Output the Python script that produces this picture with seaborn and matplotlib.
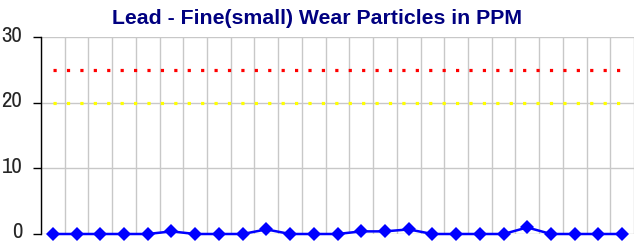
import matplotlib
matplotlib.use("Agg")
import matplotlib.pyplot as plt
import matplotlib.transforms as mtransforms
import seaborn as sns
import pandas as pd
import numpy as np

# ---- data ----
samples = list(range(1, 26))
lead_ppm = [0, 0, 0, 0, 0, 0.4, 0, 0, 0, 0.7, 0, 0, 0, 0.4, 0.4, 0.7, 0, 0, 0, 0, 1.0, 0, 0, 0, 0]
caution_limit = [20] * 25
critical_limit = [25] * 25
y_ticks = [0, 10, 20, 30]
title = "Lead - Fine(small) Wear Particles in PPM"

df = pd.DataFrame({
    "pos": np.arange(len(samples)),
    "lead": lead_ppm,
    "caution": caution_limit,
    "critical": critical_limit,
})

sns.set_theme(style="white")
plt.rcParams["font.family"] = ["Archivo Narrow", "DejaVu Sans"]

fig = plt.figure(figsize=(6.35, 2.41), dpi=100)
ax = fig.add_axes([41 / 635, 7 / 241, 593 / 635, 197 / 241])

sns.lineplot(data=df, x="pos", y="critical", ax=ax, color="#ff0000",
             linewidth=2.3, linestyle=(0, (1, 3.2)), dash_capstyle="butt")
sns.lineplot(data=df, x="pos", y="caution", ax=ax, color="#ffff00",
             linewidth=2.3, linestyle=(0, (1, 3.2)), dash_capstyle="butt")
sns.lineplot(data=df, x="pos", y="lead", ax=ax, color="#0000ff",
             linewidth=1.8, marker="D", markersize=7.5, markeredgewidth=0,
             clip_on=False, zorder=5)

ax.set_xlim(-0.5, len(samples) - 0.5)
ax.set_ylim(0, 30)
ax.set_yticks(y_ticks)
ax.set_yticklabels([str(t) for t in y_ticks], fontsize=16.5,
                   family=["Archivo Narrow", "DejaVu Sans"])
ax.set_xticks(np.arange(len(samples) + 1) - 0.5)
ax.set_xticklabels([])
ax.tick_params(axis="x", length=0)
ax.tick_params(axis="y", length=6, width=1, color="black", pad=6, left=True)
ax.set_xlabel("")
ax.set_ylabel("")

offset = mtransforms.ScaledTranslation(-2 / 100, 3.5 / 100, fig.dpi_scale_trans)
for lbl in ax.get_yticklabels():
    lbl.set_transform(lbl.get_transform() + offset)

ax.grid(True, color="#c8c8c8", linewidth=1)
ax.set_axisbelow(True)
for s in ["top", "right", "bottom"]:
    ax.spines[s].set_visible(False)
ax.spines["left"].set_color("black")
ax.spines["left"].set_linewidth(1)

fig.text(0.5, 1 - 18 / 241, title, ha="center", va="center", fontsize=15.3,
         fontweight="bold", color="#000080",
         family=["Liberation Sans", "DejaVu Sans"])

fig.savefig("out.png", dpi=100)
